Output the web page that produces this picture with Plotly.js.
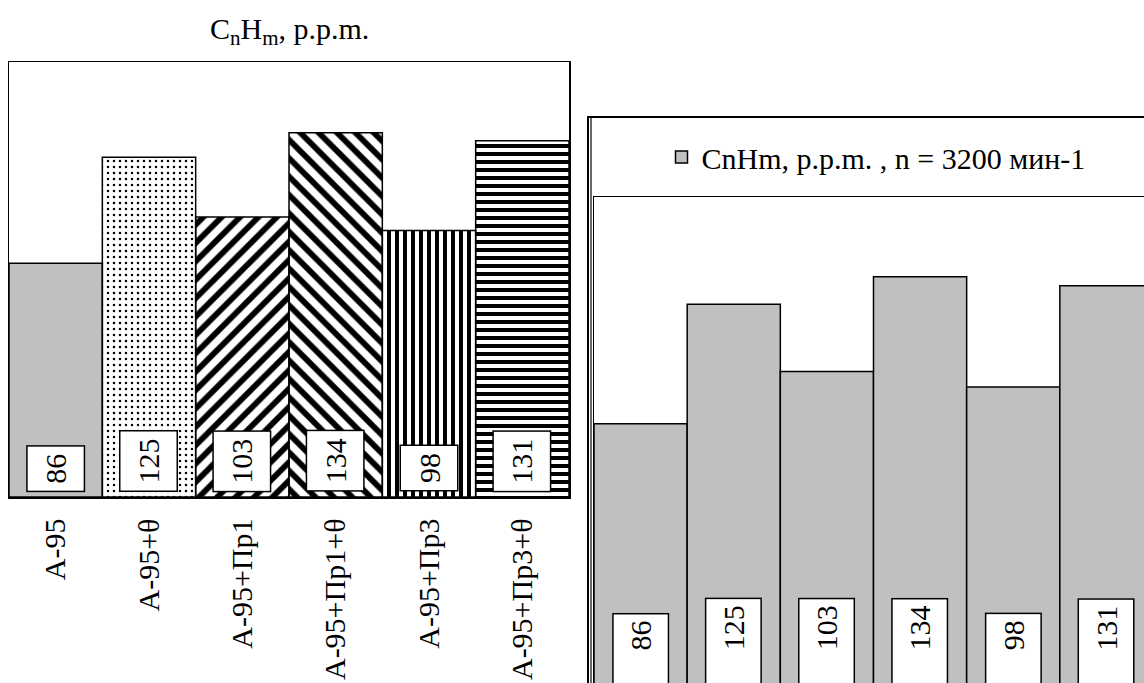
<!DOCTYPE html>
<html>
<head>
<meta charset="utf-8">
<script src="https://cdn.plot.ly/plotly-3.0.1.min.js"></script>
<style>
html, body { margin: 0; padding: 0; overflow: hidden; background: #fff; }
#chart { width: 1144px; height: 683px; }
</style>
</head>
<body>
<div id="chart"></div>
<script>
// ---- data ----
const categories = ['А-95', 'А-95+θ', 'А-95+Пр1', 'А-95+Пр1+θ', 'А-95+Пр3', 'А-95+Пр3+θ'];
const values = [86, 125, 103, 134, 98, 131];
const valueLabels = ['86', '125', '103', '134', '98', '131'];
const leftTitle = 'C<sub>n</sub>H<sub>m</sub>, p.p.m.';
const seriesName = 'CnHm, p.p.m. , n = 3200 мин-1';

// ---- styles ----
const W = 1144, H = 683;
const px = v => v / W;
const py = v => (H - v) / H;
const FONT = 'Liberation Serif';

const leftPatterns = ['', '.', '/', '\\', '|', '-'];
const leftPatternSizes = [8, 6, 13, 13, 8, 8];
const leftSolidity = [0.5, 0.13, 0.45, 0.45, 0.5, 0.5];
const leftColors = ['#c0c0c0', '#000000', '#000000', '#000000', '#000000', '#000000'];

const traces = [
  {
    type: 'bar', x: categories, y: values, xaxis: 'x', yaxis: 'y',
    showlegend: false, hoverinfo: 'skip',
    marker: {
      color: leftColors,
      line: { color: '#000', width: 1.5 },
      pattern: { shape: leftPatterns, size: leftPatternSizes, solidity: leftSolidity,
                 fillmode: 'replace', bgcolor: '#fff' }
    }
  },
  {
    type: 'bar', x: categories, y: values, xaxis: 'x2', yaxis: 'y2',
    name: seriesName, showlegend: true, hoverinfo: 'skip',
    marker: { color: '#c0c0c0', line: { color: '#000', width: 1.5 } }
  }
];

const annotations = [
  { text: leftTitle, xref: 'paper', yref: 'paper', x: px(289), y: py(31),
    xanchor: 'center', yanchor: 'middle', showarrow: false,
    font: { family: FONT, size: 30, color: '#000' } }
];
categories.forEach((c, i) => {
  annotations.push({
    text: valueLabels[i], xref: 'x', yref: 'y', x: c, y: 0, yanchor: 'bottom', xanchor: 'center',
    yshift: 5, showarrow: false, textangle: -90, height: 42,
    bgcolor: '#fff', bordercolor: '#000', borderwidth: 1.5, borderpad: 7,
    font: { family: FONT, size: 30, color: '#000' }
  });
  annotations.push({
    text: valueLabels[i], xref: 'x2', yref: 'y2', x: c, y: 2, yanchor: 'bottom', xanchor: 'center',
    yshift: -19, showarrow: false, textangle: -90,
    width: 15 * valueLabels[i].length + 42, height: 42, align: 'right',
    bgcolor: '#fff', bordercolor: '#000', borderwidth: 1.5, borderpad: 6,
    font: { family: FONT, size: 30, color: '#000' }
  });
});

const layout = {
  width: W, height: H,
  margin: { l: 0, r: 0, t: 0, b: 0 },
  paper_bgcolor: '#fff', plot_bgcolor: '#fff',
  bargap: 0,
  font: { family: FONT, color: '#000' },
  xaxis: {
    domain: [px(9), px(569)], anchor: 'y', type: 'category', range: [-0.5, 5.5],
    showline: true, mirror: true, linecolor: '#000', linewidth: 1.5,
    ticks: '', tickangle: -90, ticklabelstandoff: 8,
    tickfont: { family: FONT, size: 30, color: '#000' },
    showgrid: false, zeroline: false, fixedrange: true
  },
  yaxis: {
    domain: [py(497), py(62)], anchor: 'x', range: [0, 160],
    showline: true, mirror: true, linecolor: '#000', linewidth: 1.5,
    showticklabels: false, ticks: '', showgrid: false, zeroline: false, fixedrange: true
  },
  xaxis2: {
    domain: [px(594), 1], anchor: 'y2', type: 'category', range: [-0.5, 5.5 - 9 / 93.2],
    side: 'top', showline: true, linecolor: '#000', linewidth: 1.5,
    showticklabels: false, ticks: '', showgrid: false, zeroline: false, fixedrange: true
  },
  yaxis2: {
    domain: [0, py(197)], anchor: 'x2', range: [4 / 3.06, 160],
    showline: true, linecolor: '#000', linewidth: 1.5,
    showticklabels: false, ticks: '', showgrid: false, zeroline: false, fixedrange: true
  },
  legend: {
    x: px(876), y: py(157), xanchor: 'center', yanchor: 'middle',
    orientation: 'h', bgcolor: 'rgba(0,0,0,0)',
    font: { family: FONT, size: 30, color: '#000' }, itemwidth: 30
  },
  shapes: [
    { type: 'rect', xref: 'paper', yref: 'paper', x0: px(588), x1: 1.2, y0: -0.2, y1: py(117),
      line: { color: '#000', width: 2 } },
    { type: 'line', xref: 'paper', yref: 'paper', x0: px(591), x1: px(591), y0: -0.2, y1: py(117),
      line: { color: '#000', width: 1.2 } }
  ],
  annotations: annotations
};

Plotly.newPlot('chart', traces, layout, { displayModeBar: false, staticPlot: true });
</script>
</body>
</html>
